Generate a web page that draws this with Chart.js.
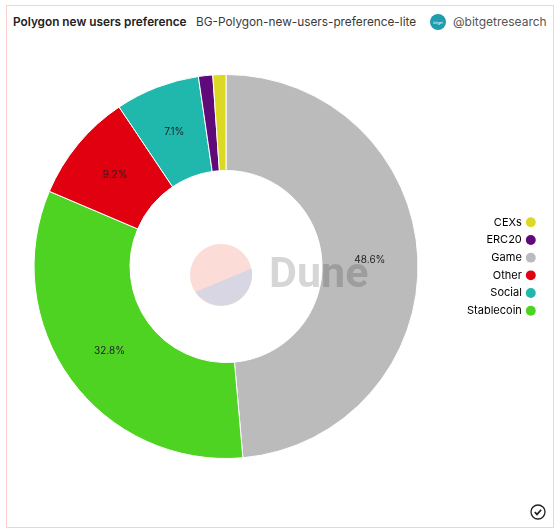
<!DOCTYPE html>
<html>
<head>
<meta charset="utf-8">
<title>Polygon new users preference</title>
<script src="https://cdn.jsdelivr.net/npm/chart.js@4"></script>
<style>
  html, body { margin: 0; padding: 0; background: #fff; }
  body { width: 560px; height: 532px; position: relative; overflow: hidden; font-family: "Inter", "Noto Sans", sans-serif; }
  #frame { position: absolute; left: 6px; top: 5px; width: 546px; height: 521px; border: 1px solid #fbcfcf; }
  .head { position: absolute; top: 14px; font-size: 11.8px; line-height: 16px; color: #3a3a3a; white-space: nowrap; }
  #title { left: 13px; font-weight: 600; color: #222; }
  #query { left: 196px; }
  #user { left: 453px; font-size: 12px; color: #555; }
  #chartBox { position: absolute; left: -5px; top: 74px; width: 546px; height: 385px; }
  #dune { position: absolute; left: 269px; top: 246px; font-family: Roboto, sans-serif; font-weight: 700; font-size: 43px; line-height: 52px; color: rgba(0,0,0,0.16); pointer-events: none; }
  svg { position: absolute; }
</style>
</head>
<body>
<div id="frame"></div>
<div class="head" id="title">Polygon new users preference</div>
<div class="head" id="query">BG-Polygon-new-users-preference-lite</div>
<svg style="left:430px;top:14px" width="16" height="16"><circle cx="8" cy="8" r="8" fill="#1e9db0"/><text x="8" y="9.5" font-size="3.5" fill="#fff" text-anchor="middle" font-family="Inter">bitget</text></svg>
<div class="head" id="user">@bitgetresearch</div>

<div id="chartBox"><canvas id="myChart"></canvas></div>

<!-- dune watermark -->
<svg style="left:190px;top:244px" width="64" height="64">
  <circle cx="31" cy="31" r="31" fill="#fbdcd6"/>
  <path d="M61.5 24.5 A31 31 0 0 1 5.5 48 Z" fill="#d8d6e3"/>
</svg>
<div id="dune">Dune</div>

<svg style="left:530px;top:504px" width="16" height="16" fill="none" stroke="#222">
  <circle cx="8" cy="8" r="7" stroke-width="1.3"/>
  <path d="M4.8 8.2 L7 10.4 L11.2 5.8" stroke-width="1.7"/>
</svg>

<script>
var categories = ["Game", "Stablecoin", "Other", "Social", "ERC20", "CEXs"];
var shares = [48.6, 32.8, 9.2, 7.1, 1.2, 1.1];
var sliceColors = ["#bbbbbb", "#4ed322", "#e1000f", "#20b8ad", "#5f0a78", "#dcd924"];
var legendOrder = ["CEXs", "ERC20", "Game", "Other", "Social", "Stablecoin"];
var minLabelShare = 5;

// percent labels sit in the middle of each big enough slice
var sliceLabels = {
  id: "sliceLabels",
  afterDatasetsDraw: function (chart) {
    var ctx = chart.ctx;
    var meta = chart.getDatasetMeta(0);
    ctx.save();
    ctx.font = "10px Inter, sans-serif";
    ctx.fillStyle = "#222";
    ctx.textAlign = "center";
    ctx.textBaseline = "middle";
    meta.data.forEach(function (arc, i) {
      if (shares[i] < minLabelShare) return;
      var pos = arc.tooltipPosition();
      ctx.fillText(shares[i].toFixed(1) + "%", pos.x, pos.y);
    });
    ctx.restore();
  }
};

var myChart = new Chart(document.getElementById("myChart"), {
  type: "doughnut",
  data: {
    labels: categories,
    datasets: [{
      data: shares,
      backgroundColor: sliceColors,
      borderColor: "#fff",
      borderWidth: 1
    }]
  },
  options: {
    responsive: true,
    maintainAspectRatio: false,
    animation: false,
    cutout: "50%",
    layout: { padding: 0 },
    plugins: {
      tooltip: { enabled: false },
      legend: {
        position: "right",
        rtl: true,
        textDirection: "ltr",
        labels: {
          usePointStyle: true,
          pointStyle: "circle",
          boxWidth: 7,
          boxHeight: 7,
          padding: 6.7,
          color: "#444",
          font: { family: "Inter, sans-serif", size: 11 },
          generateLabels: function () {
            return legendOrder.map(function (name) {
              var i = categories.indexOf(name);
              return { text: name, fillStyle: sliceColors[i], strokeStyle: sliceColors[i], lineWidth: 0, pointStyle: "circle", index: i };
            });
          }
        }
      }
    }
  },
  plugins: [sliceLabels]
});
</script>
</body>
</html>
